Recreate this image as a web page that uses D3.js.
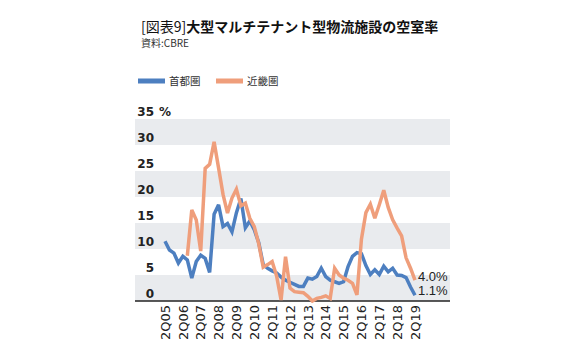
<!DOCTYPE html>
<html>
<head>
<meta charset="utf-8">
<script src="https://cdn.jsdelivr.net/npm/d3@7"></script>
<style>
  body { margin: 0; background: #fff; }
  svg { display: block; }
</style>
</head>
<body>
<div id="chart"></div>
<script>
// quarterly vacancy rate (%), 2Q05 .. 2Q19
const tokyo = [11.5, 9.8, 9.2, 7.3, 8.6, 7.9, 4.4, 7.6, 8.8, 8.2,
  5.5, 16.7, 18.5, 14.3, 14.9, 13.3, 17.0, 19.7, 14.1, 15.4,
  13.7, 11.2, 7.0, 6.3, 5.8, 5.4, 4.6, 4.0, 3.6, 3.2,
  2.8, 2.8, 4.4, 4.2, 4.7, 6.3, 4.7, 4.0, 3.7, 3.4,
  3.7, 6.6, 8.6, 9.3, 9.1, 6.8, 5.1, 6.0, 5.1, 6.7,
  5.6, 6.3, 5.0, 4.9, 4.5, 2.7, 1.1];
const kinki = [null, null, null, null, null, 8.7, 17.5, 15.6, 9.6, 25.5,
  26.3, 30.6, 25.6, 20.5, 16.9, 19.8, 21.5, 18.3, 18.8, 15.9,
  14.3, 11.0, 6.5, 7.0, 7.6, 4.8, 0.2, 8.5, 2.5, 1.8,
  1.7, 1.6, 0.9, 0.0, 0.5, 0.7, 1.0, 0.5, 6.3, 5.0,
  4.4, 4.0, 3.4, 1.2, 11.9, 17.0, 18.6, 15.9, 18.5, 21.3,
  18.0, 15.6, 14.0, 12.5, 8.3, 6.3, 4.0];
const tickLabels = ["2Q05", "2Q06", "2Q07", "2Q08", "2Q09", "2Q10", "2Q11",
  "2Q12", "2Q13", "2Q14", "2Q15", "2Q16", "2Q17", "2Q18", "2Q19"];
const yTicks = [0, 5, 10, 15, 20, 25, 30, 35];
const seriesNames = ["首都圏", "近畿圏"];
const colors = ["#4d7fc0", "#ef9e7b"];

const svg = d3.select("#chart").append("svg")
    .attr("width", 572)
    .attr("height", 345);

const jp = "'Noto Sans CJK JP', sans-serif";
const num = "'DejaVu Sans', sans-serif";

// title + source
const title = svg.append("text")
    .attr("x", 141)
    .attr("y", 32)
    .style("font-family", jp)
    .style("font-size", "14px")
    .style("fill", "#111");
title.append("tspan").style("font-weight", 400).text("[図表9]");
title.append("tspan").style("font-weight", 700).text("大型マルチテナント型物流施設の空室率");

svg.append("text")
    .attr("x", 141)
    .attr("y", 47)
    .style("font-family", jp)
    .style("font-size", "10px")
    .style("fill", "#333")
    .text("資料:CBRE");

// legend
const legend = svg.selectAll(".legend")
    .data(seriesNames)
  .enter().append("g")
    .attr("transform", (d, i) => "translate(" + (138 + i * 78) + ",81)");
legend.append("rect")
    .attr("x", 0).attr("y", -2.5)
    .attr("width", 27).attr("height", 5)
    .attr("fill", (d, i) => colors[i]);
legend.append("text")
    .attr("x", 31).attr("y", 4)
    .style("font-family", jp)
    .style("font-size", "10.5px")
    .style("fill", "#333")
    .text(d => d);

// scales
const x = d3.scaleLinear().domain([0, tokyo.length - 1]).range([165, 415]);
const y = d3.scaleLinear().domain([0, 35]).range([301, 119]);

// alternating grey bands
svg.selectAll(".band")
    .data([0, 10, 20, 30])
  .enter().append("rect")
    .attr("x", 135)
    .attr("width", 315)
    .attr("y", d => y(d + 5))
    .attr("height", d => y(d) - y(d + 5))
    .attr("fill", "#e9ebee");

// y labels
const yl = svg.selectAll(".ylab")
    .data(yTicks)
  .enter().append("text")
    .attr("x", 154)
    .attr("y", d => y(d) - 3)
    .attr("text-anchor", "end")
    .style("font-family", num)
    .style("font-size", "12px")
    .style("font-weight", 700)
    .style("fill", "#222")
    .text(d => d);
svg.append("text")
    .attr("x", 159)
    .attr("y", y(35) - 3)
    .style("font-family", num)
    .style("font-size", "12px")
    .style("font-weight", 700)
    .style("fill", "#222")
    .text("%");

// x axis line
svg.append("line")
    .attr("x1", 135).attr("x2", 450)
    .attr("y1", y(0)).attr("y2", y(0))
    .attr("stroke", "#222")
    .attr("stroke-width", 1.5);

// rotated quarter labels
svg.selectAll(".xlab")
    .data(tickLabels)
  .enter().append("text")
    .attr("transform", (d, i) => "translate(" + x(i * 4) + ",305) rotate(-90)")
    .attr("text-anchor", "end")
    .attr("dy", "0.36em")
    .style("font-family", num)
    .style("font-size", "13px")
    .style("fill", "#222")
    .text(d => d);

// lines
const line = d3.line()
    .defined(d => d != null)
    .x((d, i) => x(i))
    .y(d => y(d));

[tokyo, kinki].forEach((s, k) => {
  svg.append("path")
      .datum(s)
      .attr("fill", "none")
      .attr("stroke", colors[k])
      .attr("stroke-width", 3.5)
      .attr("stroke-linejoin", "miter")
      .attr("stroke-miterlimit", 3)
      .attr("d", line);
});

// end value labels
const last = tokyo.length - 1;
[[kinki[last], 0], [tokyo[last], 1]].forEach(([v, k]) => {
  svg.append("text")
      .attr("x", 418)
      .attr("y", k === 0 ? 281 : 295)
      .style("font-family", "'Liberation Sans', Arial, sans-serif")
      .style("font-size", "13px")
      .style("fill", "#222")
      .text(v.toFixed(1) + "%");
});
</script>
</body>
</html>
